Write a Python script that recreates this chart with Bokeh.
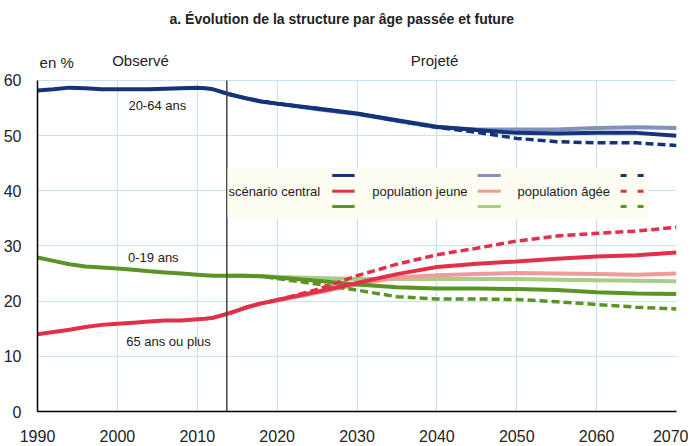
from bokeh.plotting import figure
from bokeh.models import Range1d, FixedTicker, Label, BoxAnnotation
from bokeh.embed import file_html
from bokeh.resources import INLINE

FONT = "Liberation Sans"

# ---------------- data ----------------
obs_years = [1990, 1992, 1994, 1996, 1998, 2000, 2002, 2004, 2006, 2008, 2010, 2011, 2012, 2014]
obs_2064 = [58.2, 58.4, 58.7, 58.6, 58.4, 58.4, 58.4, 58.4, 58.5, 58.6, 58.7, 58.6, 58.4, 57.5]
obs_019 = [27.9, 27.3, 26.7, 26.3, 26.1, 25.9, 25.7, 25.4, 25.2, 25.0, 24.8, 24.7, 24.6, 24.6]
obs_65 = [14.0, 14.4, 14.8, 15.3, 15.7, 15.9, 16.1, 16.3, 16.5, 16.5, 16.7, 16.8, 17.0, 17.8]

proj_years = [2014, 2016, 2018, 2020, 2025, 2030, 2035, 2040, 2045, 2050, 2055, 2060, 2065, 2070]
# scénario central
c_2064 = [57.5, 56.8, 56.2, 55.8, 54.9, 54.0, 52.8, 51.6, 51.0, 50.5, 50.4, 50.5, 50.5, 50.0]
c_019 = [24.6, 24.6, 24.5, 24.3, 23.7, 23.0, 22.5, 22.3, 22.3, 22.2, 22.0, 21.6, 21.4, 21.3]
c_65 = [17.8, 18.8, 19.6, 20.2, 21.7, 23.3, 24.9, 26.2, 26.8, 27.2, 27.7, 28.1, 28.3, 28.8]
# population jeune
j_2064 = [57.5, 56.8, 56.2, 55.8, 54.8, 53.9, 52.7, 51.5, 51.1, 51.1, 51.1, 51.4, 51.5, 51.4]
j_019 = [24.6, 24.6, 24.5, 24.4, 24.2, 24.0, 24.0, 24.0, 24.0, 24.0, 23.9, 23.8, 23.7, 23.6]
j_65 = [17.8, 18.8, 19.6, 20.1, 21.5, 23.0, 24.3, 24.7, 24.9, 25.1, 25.0, 24.9, 24.8, 25.0]
# population âgée
a_2064 = [57.5, 56.8, 56.2, 55.8, 54.9, 54.0, 52.7, 51.5, 50.6, 49.5, 48.9, 48.7, 48.7, 48.2]
a_019 = [24.6, 24.6, 24.5, 24.1, 23.1, 22.0, 20.8, 20.4, 20.4, 20.3, 19.9, 19.4, 18.9, 18.6]
a_65 = [17.8, 18.8, 19.6, 20.2, 22.1, 24.6, 26.7, 28.4, 29.6, 30.9, 31.8, 32.3, 32.7, 33.4]

x_ticks = [1990, 2000, 2010, 2020, 2030, 2040, 2050, 2060, 2070]
y_ticks = [0, 10, 20, 30, 40, 50, 60]
split_year = 2013.7

title_text = "a. Évolution de la structure par âge passée et future"
legend_labels = ["scénario central", "population jeune", "population âgée"]

# ---------------- style ----------------
BLUE, RED, GREEN = "#13337a", "#e0304a", "#5a9426"
LBLUE, LRED, LGREEN = "#8290c0", "#f09a9a", "#a9cc88"
LW = 4
DASH = "8 4"
Y_TOP = 74.13  # frame extends above 60 to hold the heading texts

p = figure(width=688, height=444, output_backend="svg", toolbar_location=None,
           x_range=Range1d(1990, 2070), y_range=Range1d(0, Y_TOP),
           min_border_left=37, min_border_right=12, min_border_top=2, min_border_bottom=33)
p.outline_line_color = None
p.background_fill_color = "white"

for ax in (p.xaxis[0], p.yaxis[0]):
    ax.axis_line_color = "black"
    ax.axis_line_width = 1.5
    ax.major_tick_line_color = None
    ax.minor_tick_line_color = None
    ax.major_label_text_font = FONT
    ax.major_label_text_font_size = "16px"
    ax.major_label_text_color = "#222222"
p.xaxis.ticker = FixedTicker(ticks=x_ticks)
p.yaxis.ticker = FixedTicker(ticks=y_ticks)
p.yaxis.bounds = (0, 60)
p.xaxis.major_label_standoff = 12
p.yaxis.major_label_standoff = 10
p.grid.grid_line_color = "#c9e2f2"
p.grid.grid_line_width = 1
p.xgrid.ticker = FixedTicker(ticks=x_ticks)
p.ygrid.ticker = FixedTicker(ticks=y_ticks)
p.xgrid.cross_bounds = (0, 60)

# lines: green, blue, red order (red on top)
groups = [
    (obs_019, c_019, j_019, a_019, GREEN, LGREEN),
    (obs_2064, c_2064, j_2064, a_2064, BLUE, LBLUE),
    (obs_65, c_65, j_65, a_65, RED, LRED),
]
for obs, c, j, a, col, lcol in groups:
    p.line(proj_years, j, line_color=lcol, line_width=LW)
for obs, c, j, a, col, lcol in groups:
    p.line(proj_years, a, line_color=col, line_width=LW - 0.5, line_dash=DASH)
    p.line(proj_years, c, line_color=col, line_width=LW)
    p.line(obs_years, obs, line_color=col, line_width=LW)

p.segment(x0=[split_year], y0=[0], x1=[split_year], y1=[60], line_color="#444444", line_width=1.5)

def lab(x, y, t, size="13px", align="center", bold=False):
    p.add_layout(Label(x=x, y=y, text=t, text_font=FONT, text_font_size=size,
                       text_align=align, text_baseline="middle", text_color="#222222",
                       text_font_style="bold" if bold else "normal"))

lab(2028.1, 71.2, title_text, size="14px", bold=True)
lab(1992.4, 63.3, "en %", size="15px")
lab(2002.9, 63.6, "Observé", size="15px")
lab(2039.7, 63.6, "Projeté", size="15px")
lab(2005.0, 55.5, "20-64 ans")
lab(2004.5, 27.9, "0-19 ans")
lab(2006.4, 12.7, "65 ans ou plus")

# legend (custom layout)
LEG_BOX = dict(left=2013.8, right=2066.4, top=44.05, bottom=34.98)
p.add_layout(BoxAnnotation(fill_color="#fdfdf1", fill_alpha=1.0, line_color=None, **LEG_BOX))
leg_text_x = [2013.9, 2031.9, 2050.1]
leg_line_x = [(2026.9, 2029.7), (2045.1, 2048.0), (2063.0, 2065.9)]
leg_rows_y = [42.78, 39.93, 37.16]
leg_colors = [[BLUE, RED, GREEN], [LBLUE, LRED, LGREEN], [BLUE, RED, GREEN]]
leg_dash = ["solid", "solid", "6 11"]
for k in range(3):
    lab(leg_text_x[k], 39.93, legend_labels[k], align="left")
    x0, x1 = leg_line_x[k]
    for r in range(3):
        p.line([x0, x1], [leg_rows_y[r], leg_rows_y[r]], line_color=leg_colors[k][r],
               line_width=3, line_dash=leg_dash[k], level="overlay")

open("out.html", "w").write(file_html(p, INLINE))
